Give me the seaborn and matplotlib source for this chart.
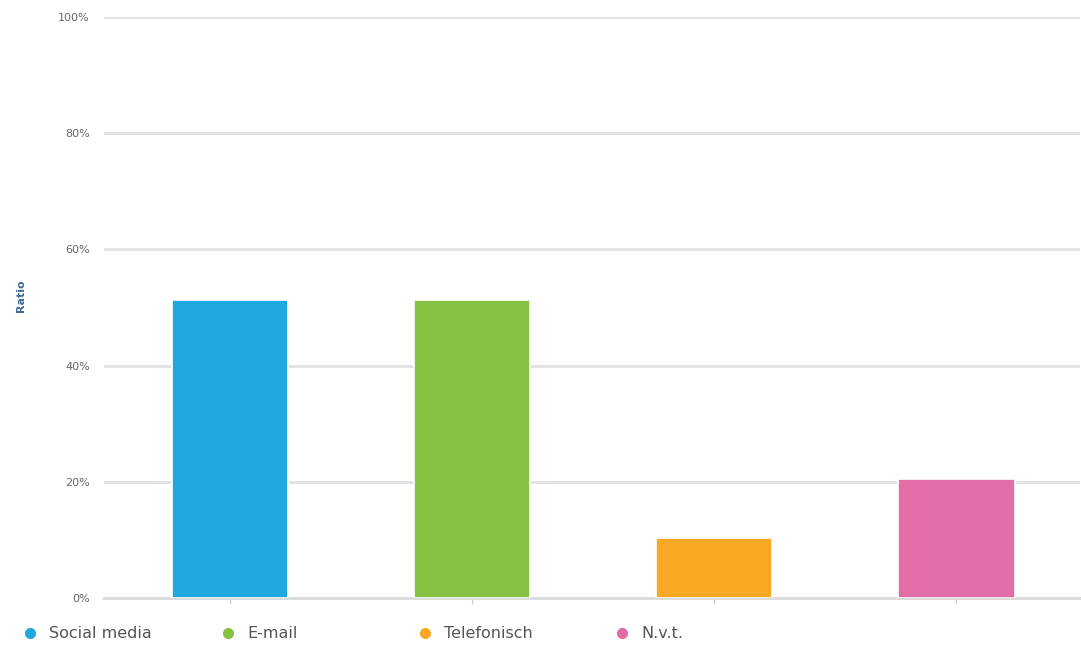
import matplotlib
matplotlib.use("Agg")
import matplotlib.pyplot as plt
from matplotlib.lines import Line2D
from matplotlib.ticker import FuncFormatter
import seaborn as sns
import pandas as pd

categories = ["Social media", "E-mail", "Telefonisch", "N.v.t."]
values = [51.3, 51.3, 10.3, 20.5]
colors = ["#1fa7df", "#86c342", "#f8a823", "#e26ca8"]
y_ticks = [0, 20, 40, 60, 80, 100]

sns.set_theme(style="white")
plt.rcParams['font.family'] = ['DejaVu Sans']

df = pd.DataFrame({"cat": categories, "val": values})

W, H = 1081, 646
fig = plt.figure(figsize=(W / 100, H / 100), dpi=100)
ax = fig.add_axes([0.096, 0.0743, 0.903, 0.8994])

sns.barplot(data=df, x="cat", y="val", hue="cat", palette=colors,
            width=0.48, legend=False, ax=ax, edgecolor="white", linewidth=1.2,
            saturation=1, zorder=3)

ax.set_ylim(0, 100)
ax.set_xlim(-0.52, 3.51)
ax.set_yticks(y_ticks)
ax.yaxis.set_major_formatter(FuncFormatter(lambda v, p: f"{int(v)}%"))
ax.grid(axis="y", color="#e3e3e3", linewidth=2.2, zorder=0)
ax.grid(axis="x", visible=False)
for s in ["top", "right", "left"]:
    ax.spines[s].set_visible(False)
ax.spines["bottom"].set_color("#dcdcdc")
ax.spines["bottom"].set_linewidth(2.2)

ax.tick_params(axis="y", length=0, labelsize=8, labelcolor="#666666", pad=10)
ax.tick_params(axis="x", bottom=True, length=4, width=0.8, color="#c8c8c8",
               labelbottom=False)
ax.set_xlabel("")
ax.set_ylabel("Ratio", fontsize=8, color="#3d6a9a", fontweight="bold")
ax.yaxis.set_label_coords(-0.08, 0.52)

# Legend entries placed at fixed pixel positions
marker_x = [30, 228, 425, 622]
leg_y = 1 - 633 / H
for mx, lab, c in zip(marker_x, categories, colors):
    fig.add_artist(Line2D([mx / W], [leg_y], marker="o", linestyle="",
                          markersize=7, markerfacecolor=c, markeredgecolor=c,
                          transform=fig.transFigure))
    fig.text((mx + 19) / W, leg_y, lab, fontsize=11.5, color="#555555",
             va="center", ha="left")

fig.savefig("out.png", dpi=100, facecolor="white")
